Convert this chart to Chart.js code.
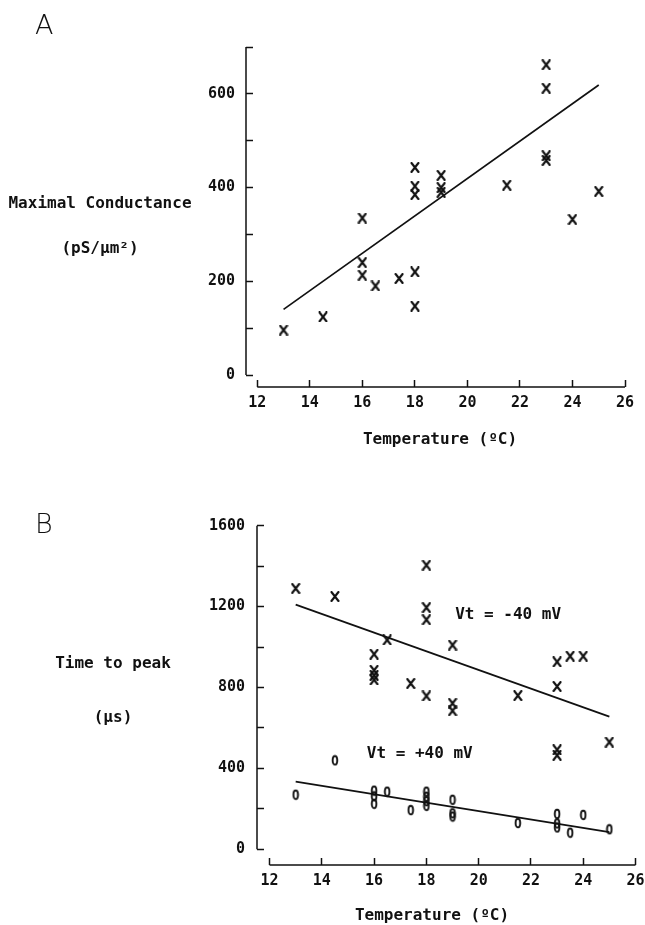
<!DOCTYPE html>
<html>
<head>
<meta charset="utf-8">
<title>Conductance and time to peak vs temperature</title>
<script src="https://cdn.jsdelivr.net/npm/chart.js@4.4.0/dist/chart.umd.min.js"></script>
<style>
  body { margin: 0; background: #fff; overflow: hidden; font-family: 'DejaVu Sans Mono', monospace; color: #111; }
  #page { position: relative; width: 645px; height: 925px; overflow: hidden; }
  canvas { position: absolute; left: 0; }
  .lbl { position: absolute; font-size: 16px; font-weight: bold; line-height: 1; white-space: pre; transform: translate(-50%, -50%); }
  .panel { position: absolute; font-family: 'DejaVu Sans', sans-serif; font-weight: 200; font-size: 27px; line-height: 1; }
</style>
</head>
<body>
<div id="page">
  <canvas id="chartA" width="660" height="460" style="top:0"></canvas>
  <canvas id="chartB" width="660" height="465" style="top:460px"></canvas>

  <div class="panel" style="left:35px; top:11px">A</div>
  <div class="lbl" style="left:100px; top:203px">Maximal Conductance</div>
  <div class="lbl" style="left:100px; top:248px">(pS/µm²)</div>
  <div class="lbl" style="left:440px; top:439px">Temperature (ºC)</div>

  <div class="panel" style="left:35px; top:510px">B</div>
  <div class="lbl" style="left:113px; top:663px">Time to peak</div>
  <div class="lbl" style="left:113px; top:717px">(µs)</div>
  <div class="lbl" style="left:432px; top:915px">Temperature (ºC)</div>
</div>

<script type="text/javascript">
// ---- panel A: maximal conductance
var tempA = [13, 14.5, 16, 16, 16, 16.5, 17.4, 18, 18, 18, 18, 18, 19, 19, 19, 21.5, 23, 23, 23, 23, 24, 25]
var condA = [96, 124, 335, 240, 213, 190, 206, 443, 403, 385, 220, 147, 426, 400, 390, 405, 662, 612, 468, 458, 332, 392]
var fitA_t = [13, 25]
var fitA_v = [140, 619]

// ---- panel B: time to peak
var tempNeg = [13, 14.5, 16, 16, 16, 16, 16.5, 17.4, 18, 18, 18, 18, 19, 19, 19, 21.5, 23, 23, 23, 23, 23.5, 24, 25]
var peakNeg = [1290, 1250, 965, 885, 860, 838, 1035, 820, 1405, 1195, 1135, 758, 1010, 722, 685, 760, 927, 805, 492, 465, 955, 955, 530]
var fitNeg_t = [13, 25]
var fitNeg_v = [1210, 656]

var tempPos = [13, 14.5, 16, 16, 16, 16.5, 17.4, 18, 18, 18, 18, 19, 19, 19, 21.5, 23, 23, 23, 23.5, 24, 25]
var peakPos = [270, 440, 290, 262, 225, 285, 194, 285, 260, 238, 215, 245, 178, 162, 130, 175, 128, 108, 82, 170, 99]
var fitPos_t = [13, 25]
var fitPos_v = [335, 85]

// ---- axes
var xTicks = [12, 14, 16, 18, 20, 22, 24, 26]
var xLabels = ['12', '14', '16', '18', '20', '22', '24', '26']
var yTicksA = [0, 100, 200, 300, 400, 500, 600, 700]
var yLabelsA = ['0', '', '200', '', '400', '', '600', '']
var yTicksB = [0, 200, 400, 600, 800, 1000, 1200, 1400, 1600]
var yLabelsB = ['0', '', '400', '', '800', '', '1200', '', '1600']

var notesB = [
  { text: 'Vt = -40 mV', x: 19.1, y: 1158 },
  { text: 'Vt = +40 mV', x: 15.72, y: 471 }
]

var ink = '#111'
Chart.defaults.font.family = "'DejaVu Sans Mono', monospace"
Chart.defaults.font.weight = 'bold'
Chart.defaults.color = ink
Chart.defaults.animation = false

function makeX() {
  var c = document.createElement('canvas')
  c.width = 10; c.height = 11
  var g = c.getContext('2d')
  g.strokeStyle = ink; g.lineWidth = 2.1; g.lineCap = 'round'
  g.beginPath()
  g.moveTo(1.5, 1); g.lineTo(8.5, 10)
  g.moveTo(8.5, 1); g.lineTo(1.5, 10)
  g.stroke()
  return c
}
function makeO() {
  var c = document.createElement('canvas')
  c.width = 8; c.height = 12
  var g = c.getContext('2d')
  g.strokeStyle = ink; g.lineWidth = 1.9
  g.beginPath()
  g.ellipse(4, 6, 2.3, 4.3, 0, 0, Math.PI * 2)
  g.stroke()
  return c
}
var markX = makeX()
var markO = makeO()

function pts(xs, ys) {
  return xs.map(function(x, i) { return { x: x, y: ys[i] } })
}

function xAxis(min, max, pad, h) {
  return {
    type: 'linear', min: min, max: max,
    afterBuildTicks: function(s) { s.ticks = xTicks.map(function(v) { return { value: v } }) },
    afterFit: function(s) { s.height = h },
    border: { display: false },
    grid: { drawOnChartArea: false, drawTicks: true, tickLength: -7, tickColor: ink, tickWidth: 1.5 },
    ticks: { padding: pad, autoSkip: false, maxRotation: 0, font: { size: 15 },
             callback: function(v, i) { return xLabels[i] } }
  }
}
function yAxis(min, max, vals, labels, pad, w) {
  return {
    type: 'linear', min: min, max: max,
    afterBuildTicks: function(s) { s.ticks = vals.map(function(v) { return { value: v } }) },
    afterFit: function(s) { s.width = w },
    border: { display: false },
    grid: { drawOnChartArea: false, drawTicks: true, tickLength: -7, tickColor: ink, tickWidth: 1.5 },
    ticks: { padding: pad, autoSkip: false, font: { size: 15 },
             callback: function(v, i) { return labels[i] } }
  }
}

// axis lines only span the tick range, like the plotter drawing
var axisLines = {
  id: 'axisLines',
  afterDraw: function(chart) {
    var ctx = chart.ctx, sx = chart.scales.x, sy = chart.scales.y, a = chart.chartArea
    var xt = sx.ticks, yt = sy.ticks
    ctx.save()
    ctx.strokeStyle = ink
    ctx.lineWidth = 1.5
    ctx.beginPath()
    ctx.moveTo(a.left, sy.getPixelForValue(yt[0].value))
    ctx.lineTo(a.left, sy.getPixelForValue(yt[yt.length - 1].value))
    ctx.moveTo(sx.getPixelForValue(xt[0].value), a.bottom)
    ctx.lineTo(sx.getPixelForValue(xt[xt.length - 1].value), a.bottom)
    ctx.stroke()
    ctx.restore()
  }
}

var notesPlugin = {
  id: 'notes',
  afterDraw: function(chart, args, opts) {
    if (!opts.items) return
    var ctx = chart.ctx
    ctx.save()
    ctx.fillStyle = ink
    ctx.font = "bold 16px 'DejaVu Sans Mono', monospace"
    ctx.textAlign = 'left'
    ctx.textBaseline = 'middle'
    opts.items.forEach(function(n) {
      ctx.fillText(n.text, chart.scales.x.getPixelForValue(n.x), chart.scales.y.getPixelForValue(n.y))
    })
    ctx.restore()
  }
}

var chartA = new Chart(document.getElementById('chartA'), {
  type: 'scatter',
  data: {
    datasets: [
      { data: pts(tempA, condA), pointStyle: markX, pointRadius: 5 },
      { data: pts(fitA_t, fitA_v), showLine: true, borderColor: ink, borderWidth: 1.7, pointRadius: 0 }
    ]
  },
  options: {
    responsive: false,
    events: [],
    layout: { padding: { left: 186, top: 47, right: 35, bottom: 0 } },
    plugins: { legend: { display: false }, tooltip: { enabled: false } },
    scales: {
      x: xAxis(11.57, 26, 14, 73),
      y: yAxis(-25.6, 700, yTicksA, yLabelsA, 18, 60)
    }
  },
  plugins: [axisLines]
})

var chartB = new Chart(document.getElementById('chartB'), {
  type: 'scatter',
  data: {
    datasets: [
      { data: pts(tempNeg, peakNeg), pointStyle: markX, pointRadius: 5 },
      { data: pts(tempPos, peakPos), pointStyle: markO, pointRadius: 5 },
      { data: pts(fitNeg_t, fitNeg_v), showLine: true, borderColor: ink, borderWidth: 1.7, pointRadius: 0 },
      { data: pts(fitPos_t, fitPos_v), showLine: true, borderColor: ink, borderWidth: 1.7, pointRadius: 0 }
    ]
  },
  options: {
    responsive: false,
    events: [],
    layout: { padding: { left: 197, top: 65.7, right: 24.5, bottom: 0 } },
    plugins: { legend: { display: false }, tooltip: { enabled: false }, notes: { items: notesB } },
    scales: {
      x: xAxis(11.52, 26, 14, 60),
      y: yAxis(-77.6, 1600, yTicksB, yLabelsB, 19, 60)
    }
  },
  plugins: [axisLines, notesPlugin]
})
</script>
</body>
</html>
